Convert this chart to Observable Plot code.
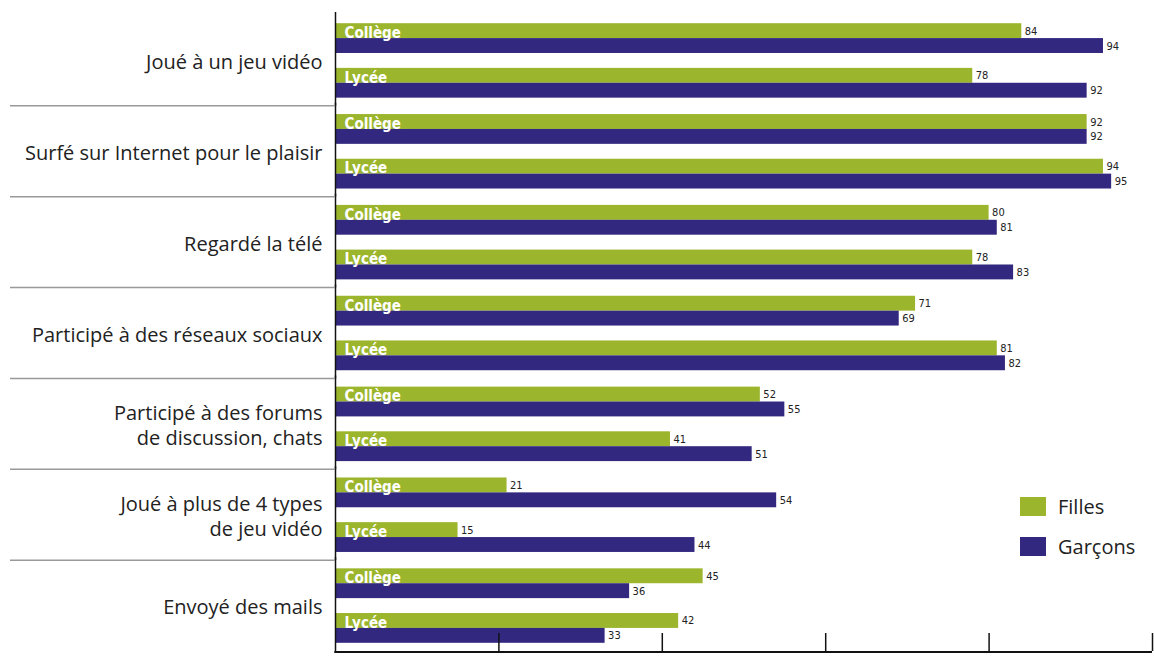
<!DOCTYPE html>
<html><head><meta charset="utf-8">
<script src="https://cdn.jsdelivr.net/npm/d3@7"></script>
<script src="https://cdn.jsdelivr.net/npm/@observablehq/plot@0.6"></script>
<style>
body{margin:0;background:#fff;font-family:"Open Sans",sans-serif;}
#wrap{position:relative;width:1154px;height:671px;}
.legend{position:absolute;left:1020px;top:495px;font-size:20px;color:#222;}
.legend div{display:flex;align-items:center;height:22px;margin-bottom:18px;}
.sw{width:26px;height:19px;margin-right:12px;}
</style></head>
<body><div id="wrap"><div id="chart"></div><div class="legend" id="legend"></div></div>
<script>
const categories = ["Joué à un jeu vidéo","Surfé sur Internet pour le plaisir","Regardé la télé","Participé à des réseaux sociaux","Participé à des forums\nde discussion, chats","Joué à plus de 4 types\nde jeu vidéo","Envoyé des mails"];
const levels = ["Collège","Lycée"];
const sexes = ["Filles","Garçons"];
const fillesCollege = [84,92,80,71,52,21,45];
const garconsCollege = [94,92,81,69,55,54,36];
const fillesLycee = [78,94,78,81,41,15,42];
const garconsLycee = [92,95,83,82,51,44,33];
const xTicks = [20,40,60,80,100];
const colors = ["#9bb52c","#33287f"];

const series = {
  "Collège|Filles": fillesCollege, "Collège|Garçons": garconsCollege,
  "Lycée|Filles": fillesLycee, "Lycée|Garçons": garconsLycee
};
const rows = [];
categories.forEach((cat, i) => {
  levels.forEach(level => sexes.forEach(sex => {
    const key = level + "|" + sex;
    rows.push({cat, level, sex, key, value: series[key][i]});
  }));
});
const yDomain = ["Collège|Filles","Collège|Garçons"," ","Lycée|Filles","Lycée|Garçons"];
const narrow = "'Liberation Sans Narrow', 'DejaVu Sans Condensed', 'Roboto Condensed', sans-serif";

const plot = Plot.plot({
  width: 1154, height: 671,
  marginTop: 15, marginBottom: 20, marginLeft: 335, marginRight: 2,
  style: {fontFamily: "'Open Sans', sans-serif", background: "transparent"},
  x: {domain: [0, 100], axis: null},
  y: {domain: yDomain, axis: null, paddingInner: 0, paddingOuter: 0.55, round: false},
  fy: {domain: categories, axis: null, padding: 0, round: false},
  color: {domain: sexes, range: colors},
  marks: [
    Plot.barX(rows, {fy: "cat", y: "key", x: "value", fill: "sex"}),
    Plot.text(rows, {fy: "cat", y: "key", x: "value", text: "value", dx: 3, textAnchor: "start", fontSize: 11, fontFamily: narrow, fill: "#222"}),
    Plot.text(rows.filter(d => d.sex === "Filles"), {fy: "cat", y: "key", x: 0, text: "level", dx: 9, dy: 2, textAnchor: "start", fill: "white", fontWeight: "bold", fontSize: 15, fontFamily: narrow}),
    Plot.ruleX([0], {stroke: "#111", strokeWidth: 1.5, insetTop: -3}),
    Plot.axisFy({anchor: "left", tickSize: 0, tickPadding: 13, fontSize: 20, lineHeight: 1.28, label: null, fill: "#222"}),
    Plot.axisX({ticks: xTicks, tickSize: -18, tickFormat: () => "", label: null, stroke: "#111", strokeWidth: 1.5})
  ]
});
document.getElementById("chart").appendChild(plot);

// separators and bottom baseline, positioned with the plot's own scales
const fy = plot.scale("fy"), xs = plot.scale("x");
const svg = d3.select(plot);
const g = svg.append("g");
categories.slice(1).forEach(c => {
  const yy = fy.apply(c);
  g.append("line").attr("x1", 10).attr("x2", xs.apply(0)).attr("y1", yy).attr("y2", yy)
    .attr("stroke", "#999").attr("stroke-width", 1.5);
});
const yb = fy.apply(categories[categories.length - 1]) + fy.bandwidth + 1;
g.append("line").attr("x1", xs.apply(0) - 0.75).attr("x2", xs.apply(100)).attr("y1", yb).attr("y2", yb)
  .attr("stroke", "#111").attr("stroke-width", 2);

// legend
const leg = d3.select("#legend");
sexes.forEach((s, i) => {
  const row = leg.append("div");
  row.append("span").attr("class", "sw").style("background", colors[i]);
  row.append("span").text(s);
});
</script>
</body></html>
